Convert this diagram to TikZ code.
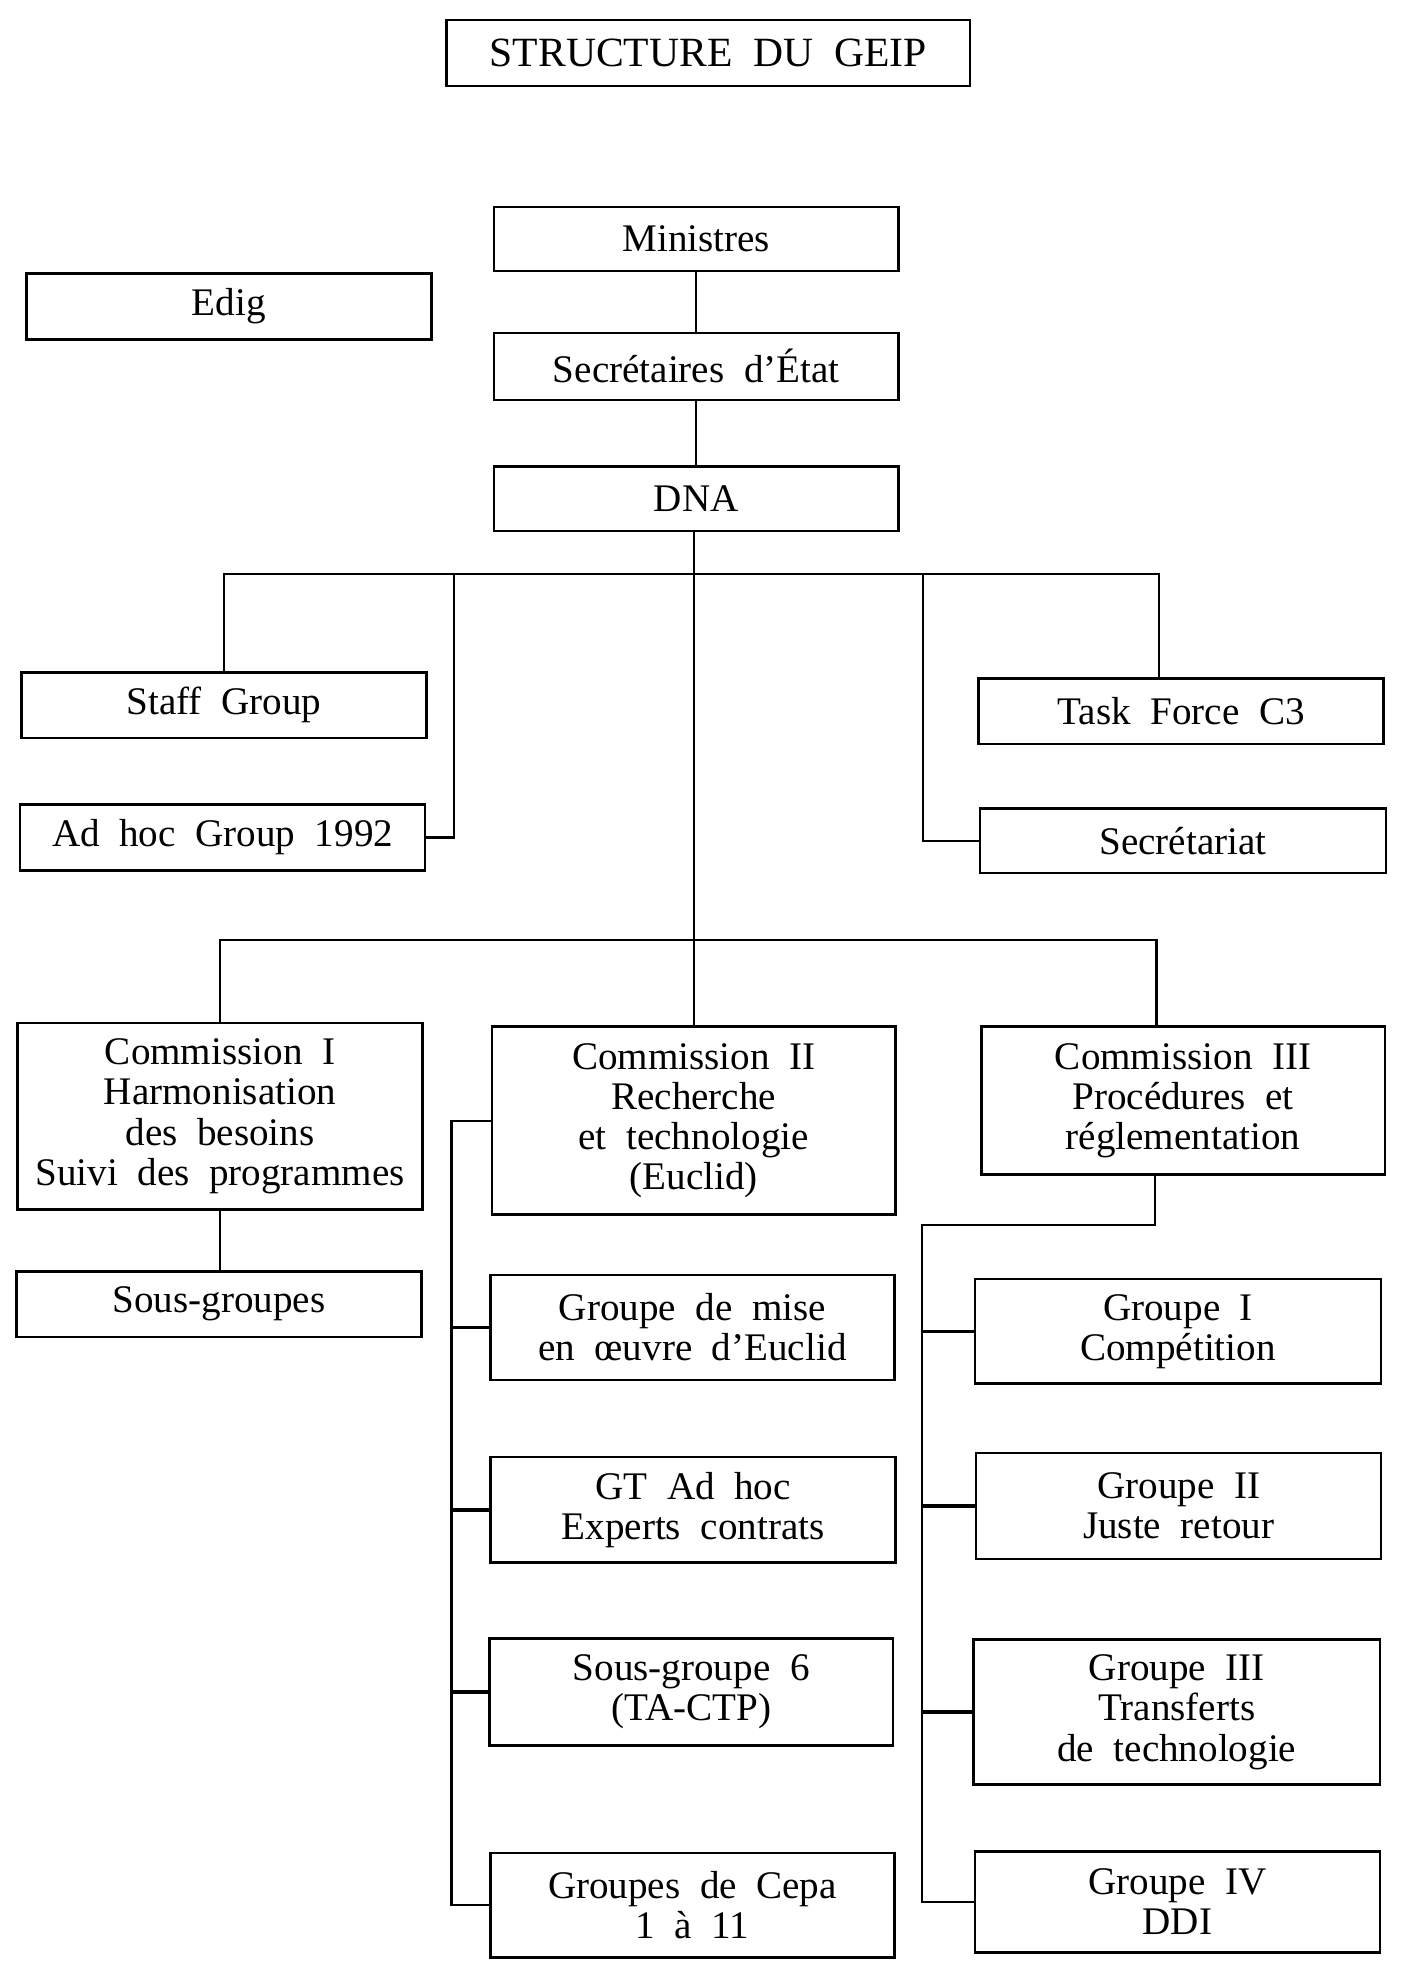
\documentclass[tikz,border=0pt]{standalone}
\usepackage{fontspec}
\setmainfont{Liberation Serif}
\newcommand\boxfnt{\fontsize{15.5}{15.9}\selectfont\spaceskip=0.5em plus 0.1em\relax}
\newcommand\titlefnt{\fontsize{16.5}{17}\selectfont\spaceskip=0.5em plus 0.1em\relax}
\begin{document}
\begin{tikzpicture}[x=0.5pt,y=-0.5pt,
  orgbox/.style={draw,line width=1pt,inner sep=0pt,align=center,font=\boxfnt,
     minimum width=160.5pt},
  conn/.style={line width=0.9pt},
  tick/.style={line width=1.4pt}]
\useasboundingbox (0,0) rectangle (1110,1563.5);
% top
\node[orgbox,font=\titlefnt,minimum width=207.5pt,minimum height=26pt] (title) at (561.5,42) {STRUCTURE DU GEIP};
\node[orgbox,minimum height=25.5pt] (min) at (552,189.5) {Ministres};
\node[orgbox,minimum height=26pt] (edig) at (181.5,243) {Edig};
\node[orgbox,minimum height=26.5pt] (sec) at (552,290.5) {Secrétaires d’État};
\node[orgbox,minimum height=25.5pt] (dna) at (552,395.5) {DNA};
% second level
\node[orgbox,minimum height=26pt] (staff) at (177.5,559) {Staff Group};
\node[orgbox,minimum height=26pt] (adhoc) at (176.5,664) {Ad hoc Group 1992};
\node[orgbox,minimum height=26pt] (task) at (936.5,564) {Task Force C3};
\node[orgbox,minimum height=25.5pt,minimum width=161pt] (secr) at (938,666.5) {Secrétariat};
% commissions
\node[orgbox,minimum height=74pt] (com1) at (174.5,885) {Commission I\\Harmonisation\\des besoins\\Suivi des programmes};
\node[orgbox,minimum height=74.5pt,minimum width=160pt] (com2) at (550,888.5) {Commission II\\Recherche\\et technologie\\(Euclid)};
\node[orgbox,minimum height=58.5pt,minimum width=160pt] (com3) at (938,872.5) {Commission III\\Procédures et\\réglementation};
\node[orgbox,minimum height=26pt] (sousg) at (173.5,1034) {Sous-groupes};
% column 2
\node[orgbox,minimum height=41.5pt,minimum width=160pt] (gmise) at (549,1052.5) {Groupe de mise\\en œuvre d’Euclid};
\node[orgbox,minimum height=42pt] (gtah) at (549.5,1197) {GT Ad hoc\\Experts contrats};
\node[orgbox,minimum height=42.5pt,minimum width=160pt] (sg6) at (548,1341.5) {Sous-groupe 6\\(TA-CTP)};
\node[orgbox,minimum height=41.5pt,minimum width=160pt] (cepa) at (549,1510.5) {Groupes de Cepa\\1 à 11};
% column 3
\node[orgbox,minimum height=41.5pt,minimum width=161pt] (g1) at (934,1055.5) {Groupe I\\Compétition};
\node[orgbox,minimum height=42pt] (g2) at (934.5,1194) {Groupe II\\Juste retour};
\node[orgbox,minimum height=57.5pt,minimum width=161pt] (g3) at (933,1357.5) {Groupe III\\Transferts\\de technologie};
\node[orgbox,minimum height=40pt] (g4) at (933.5,1508) {Groupe IV\\DDI};
% coordinates
\coordinate (b1) at (550,455);
\coordinate (b1r) at (919,455);
\coordinate (c1) at (360,455);
\coordinate (c2) at (732,455);
\coordinate (b2) at (550,745);
\coordinate (b2r) at (917,745);
\coordinate (v2x) at (358,0);
\coordinate (k3) at (916,971);
\coordinate (v3x) at (731,0);
% connectors
\draw[conn] (min) -- (sec);
\draw[conn] (sec) -- (dna);
\draw[conn] (dna.south -| com2.north) -- (com2.north);
\draw[conn] (staff.north) |- (b1r) -- (b1r |- task.north);
\draw[conn] (adhoc.east) -| (c1);
\draw[conn] (secr.west) -| (c2);
\draw[conn] (com1.north) |- (b2r) -- (b2r |- com3.north);
\draw[conn] (com1.south) -- (com1.south |- sousg.north);
\draw[conn] (com2.west) -| (cepa.west -| v2x) -- (cepa.west);
\draw[tick] (gmise.west) -- (gmise.west -| v2x);
\draw[tick] (gtah.west) -- (gtah.west -| v2x);
\draw[tick] (sg6.west) -- (sg6.west -| v2x);
\draw[conn] (k3 |- com3.south) -- (k3) -| (g4.west -| v3x) -- (g4.west);
\draw[tick] (g1.west) -- (g1.west -| v3x);
\draw[tick] (g2.west) -- (g2.west -| v3x);
\draw[tick] (g3.west) -- (g3.west -| v3x);
\end{tikzpicture}
\end{document}
